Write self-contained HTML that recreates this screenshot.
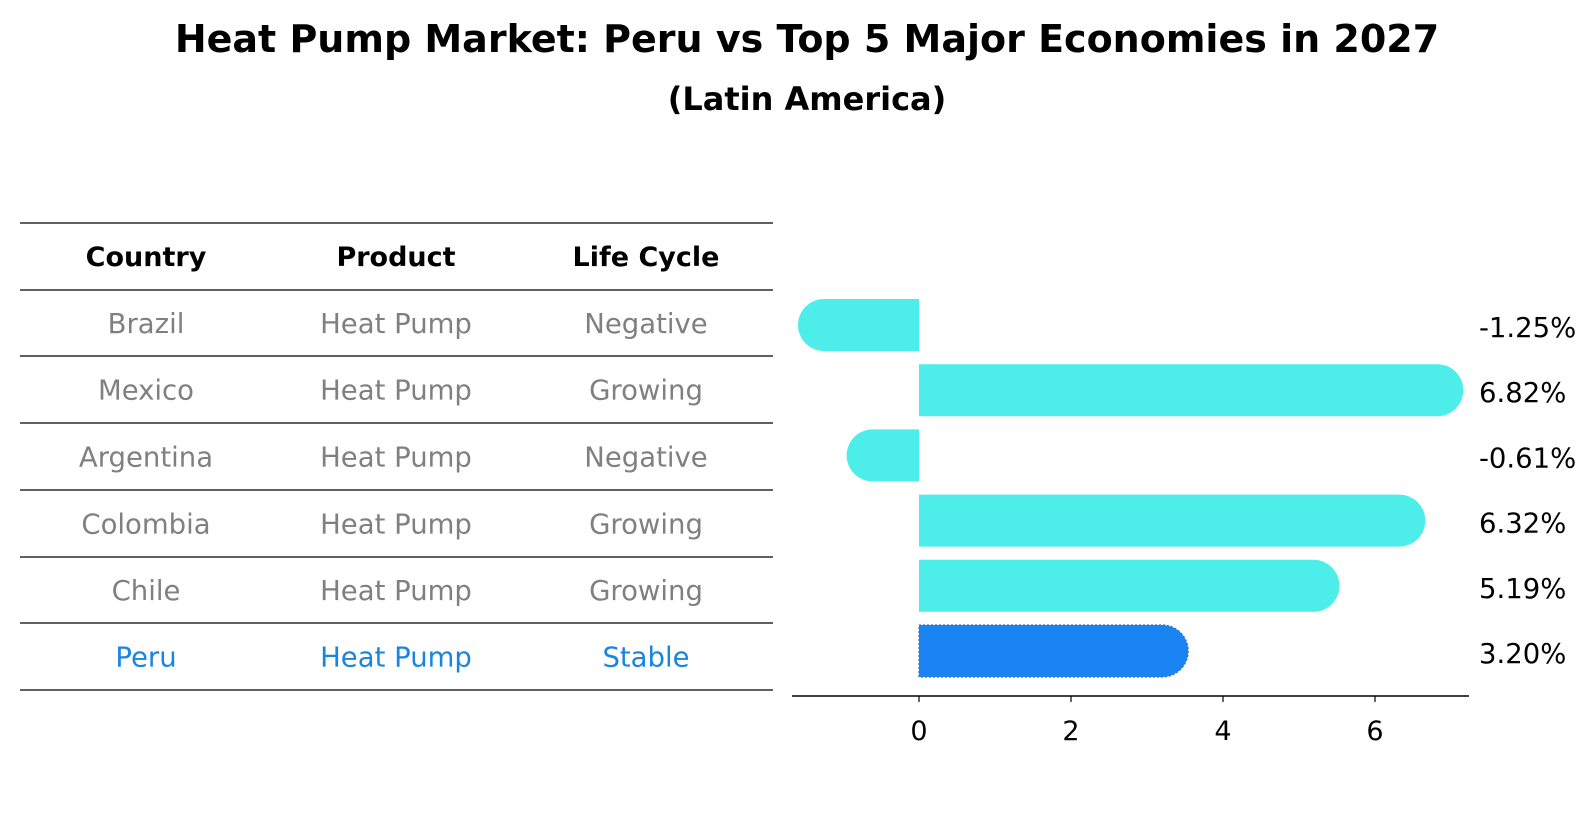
<!DOCTYPE html>
<html><head><meta charset="utf-8"><style>
body{margin:0;background:#fff;}
svg text{font-family:"DejaVu Sans","Liberation Sans",sans-serif;}
</style></head><body>
<svg id="chart" width="1596" height="823" viewBox="0 0 1596 823" xmlns="http://www.w3.org/2000/svg">
<text x="807" y="52" text-anchor="middle" font-size="38" font-weight="bold">Heat Pump Market: Peru vs Top 5 Major Economies in 2027</text>
<text x="807" y="110" text-anchor="middle" font-size="32" font-weight="bold">(Latin America)</text>
<g id="table"></g>
<g id="bars"></g>
</svg>
<script>
const countries=["Brazil","Mexico","Argentina","Colombia","Chile","Peru"];
const products=["Heat Pump","Heat Pump","Heat Pump","Heat Pump","Heat Pump","Heat Pump"];
const lifeCycles=["Negative","Growing","Negative","Growing","Growing","Stable"];
const growth=[-1.25,6.82,-0.61,6.32,5.19,3.20];
const ticks=[0,2,4,6];
const NS="http://www.w3.org/2000/svg";
function mk(tag,attrs,parent,text){const e=document.createElementNS(NS,tag);for(const k in attrs)e.setAttribute(k,attrs[k]);if(text!==undefined)e.textContent=text;parent.appendChild(e);return e;}
const table=document.getElementById('table');
const lineY=[223,290,356,423,490,557,623,690];
lineY.forEach((y,i)=>{const l=mk('line',{x1:20,x2:773,y1:y,y2:y,stroke:'#000','stroke-width':1.2},table);

});
const colX=[146,396,646];
["Country","Product","Life Cycle"].forEach((h,i)=>{const t=mk('text',{x:colX[i],y:266,'text-anchor':'middle','font-size':27,'font-weight':'bold'},table,h);

});
countries.forEach((c,r)=>{const cy=(lineY[r+1]+lineY[r+2])/2+10;const col=c==="Peru"?"#1a85e0":"#808080";
[c,products[r],lifeCycles[r]].forEach((v,i)=>{const t=mk('text',{x:colX[i],y:cy,'text-anchor':'middle','font-size':27.5,fill:col},table,v);

});});
const bars=document.getElementById('bars');
const x0=919,ppu=76;
const xs=v=>x0+v*ppu;
const yc=i=>325+i*65.2;
const h=52,r=26;
growth.forEach((v,i)=>{const c=yc(i),top=c-h/2,xe=xs(v),peru=countries[i]==="Peru";
const fill=peru?"#1a85f2":"#4deeea";
let d;
if(v>=0){d=`M${x0},${top} L${xe},${top} A${r},${r} 0 0 1 ${xe},${top+h} L${x0},${top+h} Z`;}
else{d=`M${x0},${top} L${xe},${top} A${r},${r} 0 0 0 ${xe},${top+h} L${x0},${top+h} Z`;}
const p=mk('path',{d:d,fill:fill},bars);
if(peru){p.setAttribute('stroke','#3a6fc0');p.setAttribute('stroke-dasharray','2,2');p.setAttribute('stroke-width','1.2');}


const t=mk('text',{x:1479,y:c+12,'font-size':27.5},bars,v.toFixed(2)+'%');

});
const ax=mk('line',{x1:792,x2:1469,y1:696,y2:696,stroke:'#000','stroke-width':1.5},bars);


ticks.forEach(tv=>{const tk=mk('line',{x1:xs(tv),x2:xs(tv),y1:696,y2:702,stroke:'#000','stroke-width':1.2},bars);


const t=mk('text',{x:xs(tv),y:740,'text-anchor':'middle','font-size':27},bars,String(tv));

});
</script>
</body></html>
